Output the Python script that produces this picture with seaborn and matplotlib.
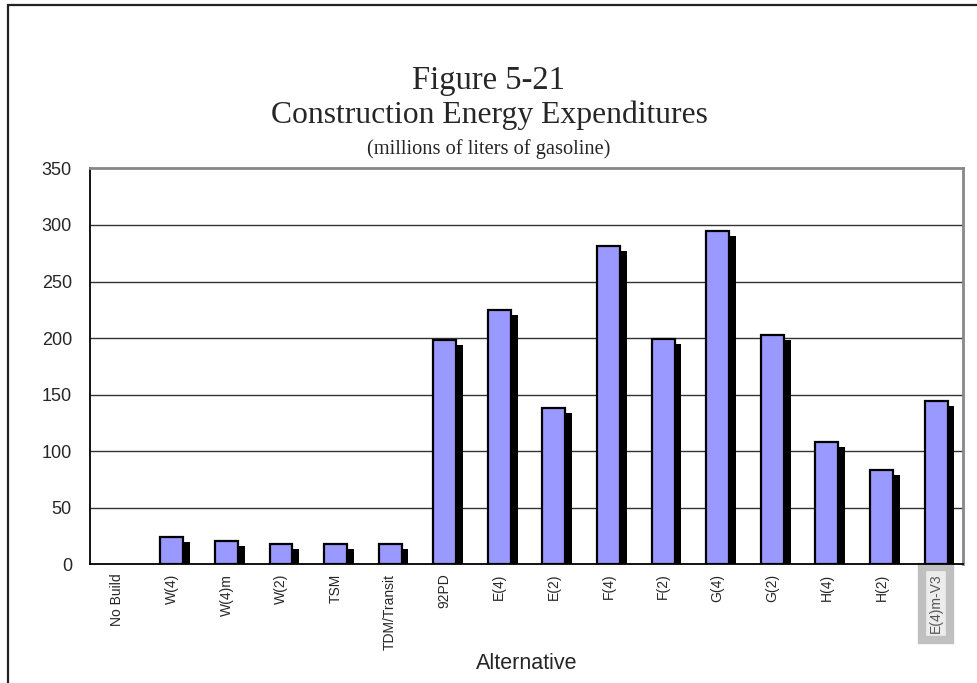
import numpy as np
import pandas as pd
import matplotlib
matplotlib.use("Agg")
import matplotlib.pyplot as plt
import matplotlib.transforms as mtransforms
from matplotlib.patches import Rectangle
import seaborn as sns

alternatives = ["No Build", "W(4)", "W(4)m", "W(2)", "TSM", "TDM/Transit", "92PD",
                "E(4)", "E(2)", "F(4)", "F(2)", "G(4)", "G(2)", "H(4)", "H(2)", "E(4)m-V3"]
energy = [0, 24, 20, 18, 18, 18, 198, 225, 138, 281, 199, 295, 203, 108, 83, 144]
yticks = [0, 50, 100, 150, 200, 250, 300, 350]

df = pd.DataFrame({"Alternative": alternatives, "Energy": energy})

sns.set_style("white")
plt.rcParams['font.family'] = ['Liberation Sans', 'DejaVu Sans']

fig = plt.figure(figsize=(9.78, 6.83), dpi=100)
ax = fig.add_axes([0.092, 0.1742, 0.893, 0.5791])

# shadow bars, shifted right and down
sns.barplot(data=df, x="Alternative", y="Energy", color="black", width=0.42,
            saturation=1, ax=ax, zorder=2)
shift = mtransforms.ScaledTranslation(0.068, -0.05, fig.dpi_scale_trans)
for p in ax.patches:
    p.set_transform(ax.transData + shift)
    p.set_linewidth(0)
n_shadow = len(ax.patches)

# front bars
sns.barplot(data=df, x="Alternative", y="Energy", color="#9999FF", width=0.42,
            saturation=1, ax=ax, zorder=3)
for p in ax.patches[n_shadow:]:
    p.set_edgecolor("black")
    # empty bars (No Build) show no outline
    p.set_linewidth(1.6 if p.get_height() > 0 else 0)
    p.set_zorder(3)

ax.set_ylim(0, 350)
ax.set_xlim(-0.5, len(alternatives) - 0.5)
ax.set_yticks(yticks)
ax.set_yticklabels([str(v) for v in yticks], fontsize=13)
for v in yticks[1:-1]:
    ax.axhline(v, color="#333333", lw=1, zorder=1)

# ticks between categories, labels at centres
ax.set_xticks(np.arange(-0.5, len(alternatives), 1))
ax.set_xticklabels([])
ax.set_xticks(np.arange(len(alternatives)), minor=True)
ax.set_xticklabels(alternatives, minor=True, rotation=90, fontsize=10)
ax.tick_params(axis="x", which="major", direction="out", length=5, width=1, color="black")
ax.tick_params(axis="x", which="minor", length=0, pad=7)
ax.tick_params(axis="y", direction="out", length=5, width=1, color="black", pad=8)

for lab in ax.get_xticklabels(minor=True):
    if lab.get_text() == "E(4)m-V3":
        lab.set_color("#555555")
        lab.set_bbox(dict(facecolor="#ececec", edgecolor="#c0c0c0", linewidth=6, pad=5))

ax.set_xlabel("Alternative", fontsize=15.5)
ax.set_ylabel("")
ax.xaxis.set_label_coords(0.5, -0.225)

for side in ["left", "bottom"]:
    ax.spines[side].set_color("black")
    ax.spines[side].set_linewidth(1.3)
for side in ["top", "right"]:
    ax.spines[side].set_color("#888888")
    ax.spines[side].set_linewidth(2)

fig.text(0.5, 0.882, "Figure 5-21", ha="center", va="center",
         family="Liberation Serif", fontsize=23.5)
fig.text(0.5, 0.831, "Construction Energy Expenditures", ha="center", va="center",
         family="Liberation Serif", fontsize=22.8)
fig.text(0.5, 0.782, "(millions of liters of gasoline)", ha="center", va="center",
         family="Liberation Serif", fontsize=14.7)

# outer frame running off the right and bottom edges
top = 1 - 5 / 683
fig.patches.append(Rectangle((8 / 978, -0.05), 1.2, top + 0.05,
                             transform=fig.transFigure, fill=False,
                             edgecolor="#222222", linewidth=1.6))

fig.savefig("out.png", dpi=100)
